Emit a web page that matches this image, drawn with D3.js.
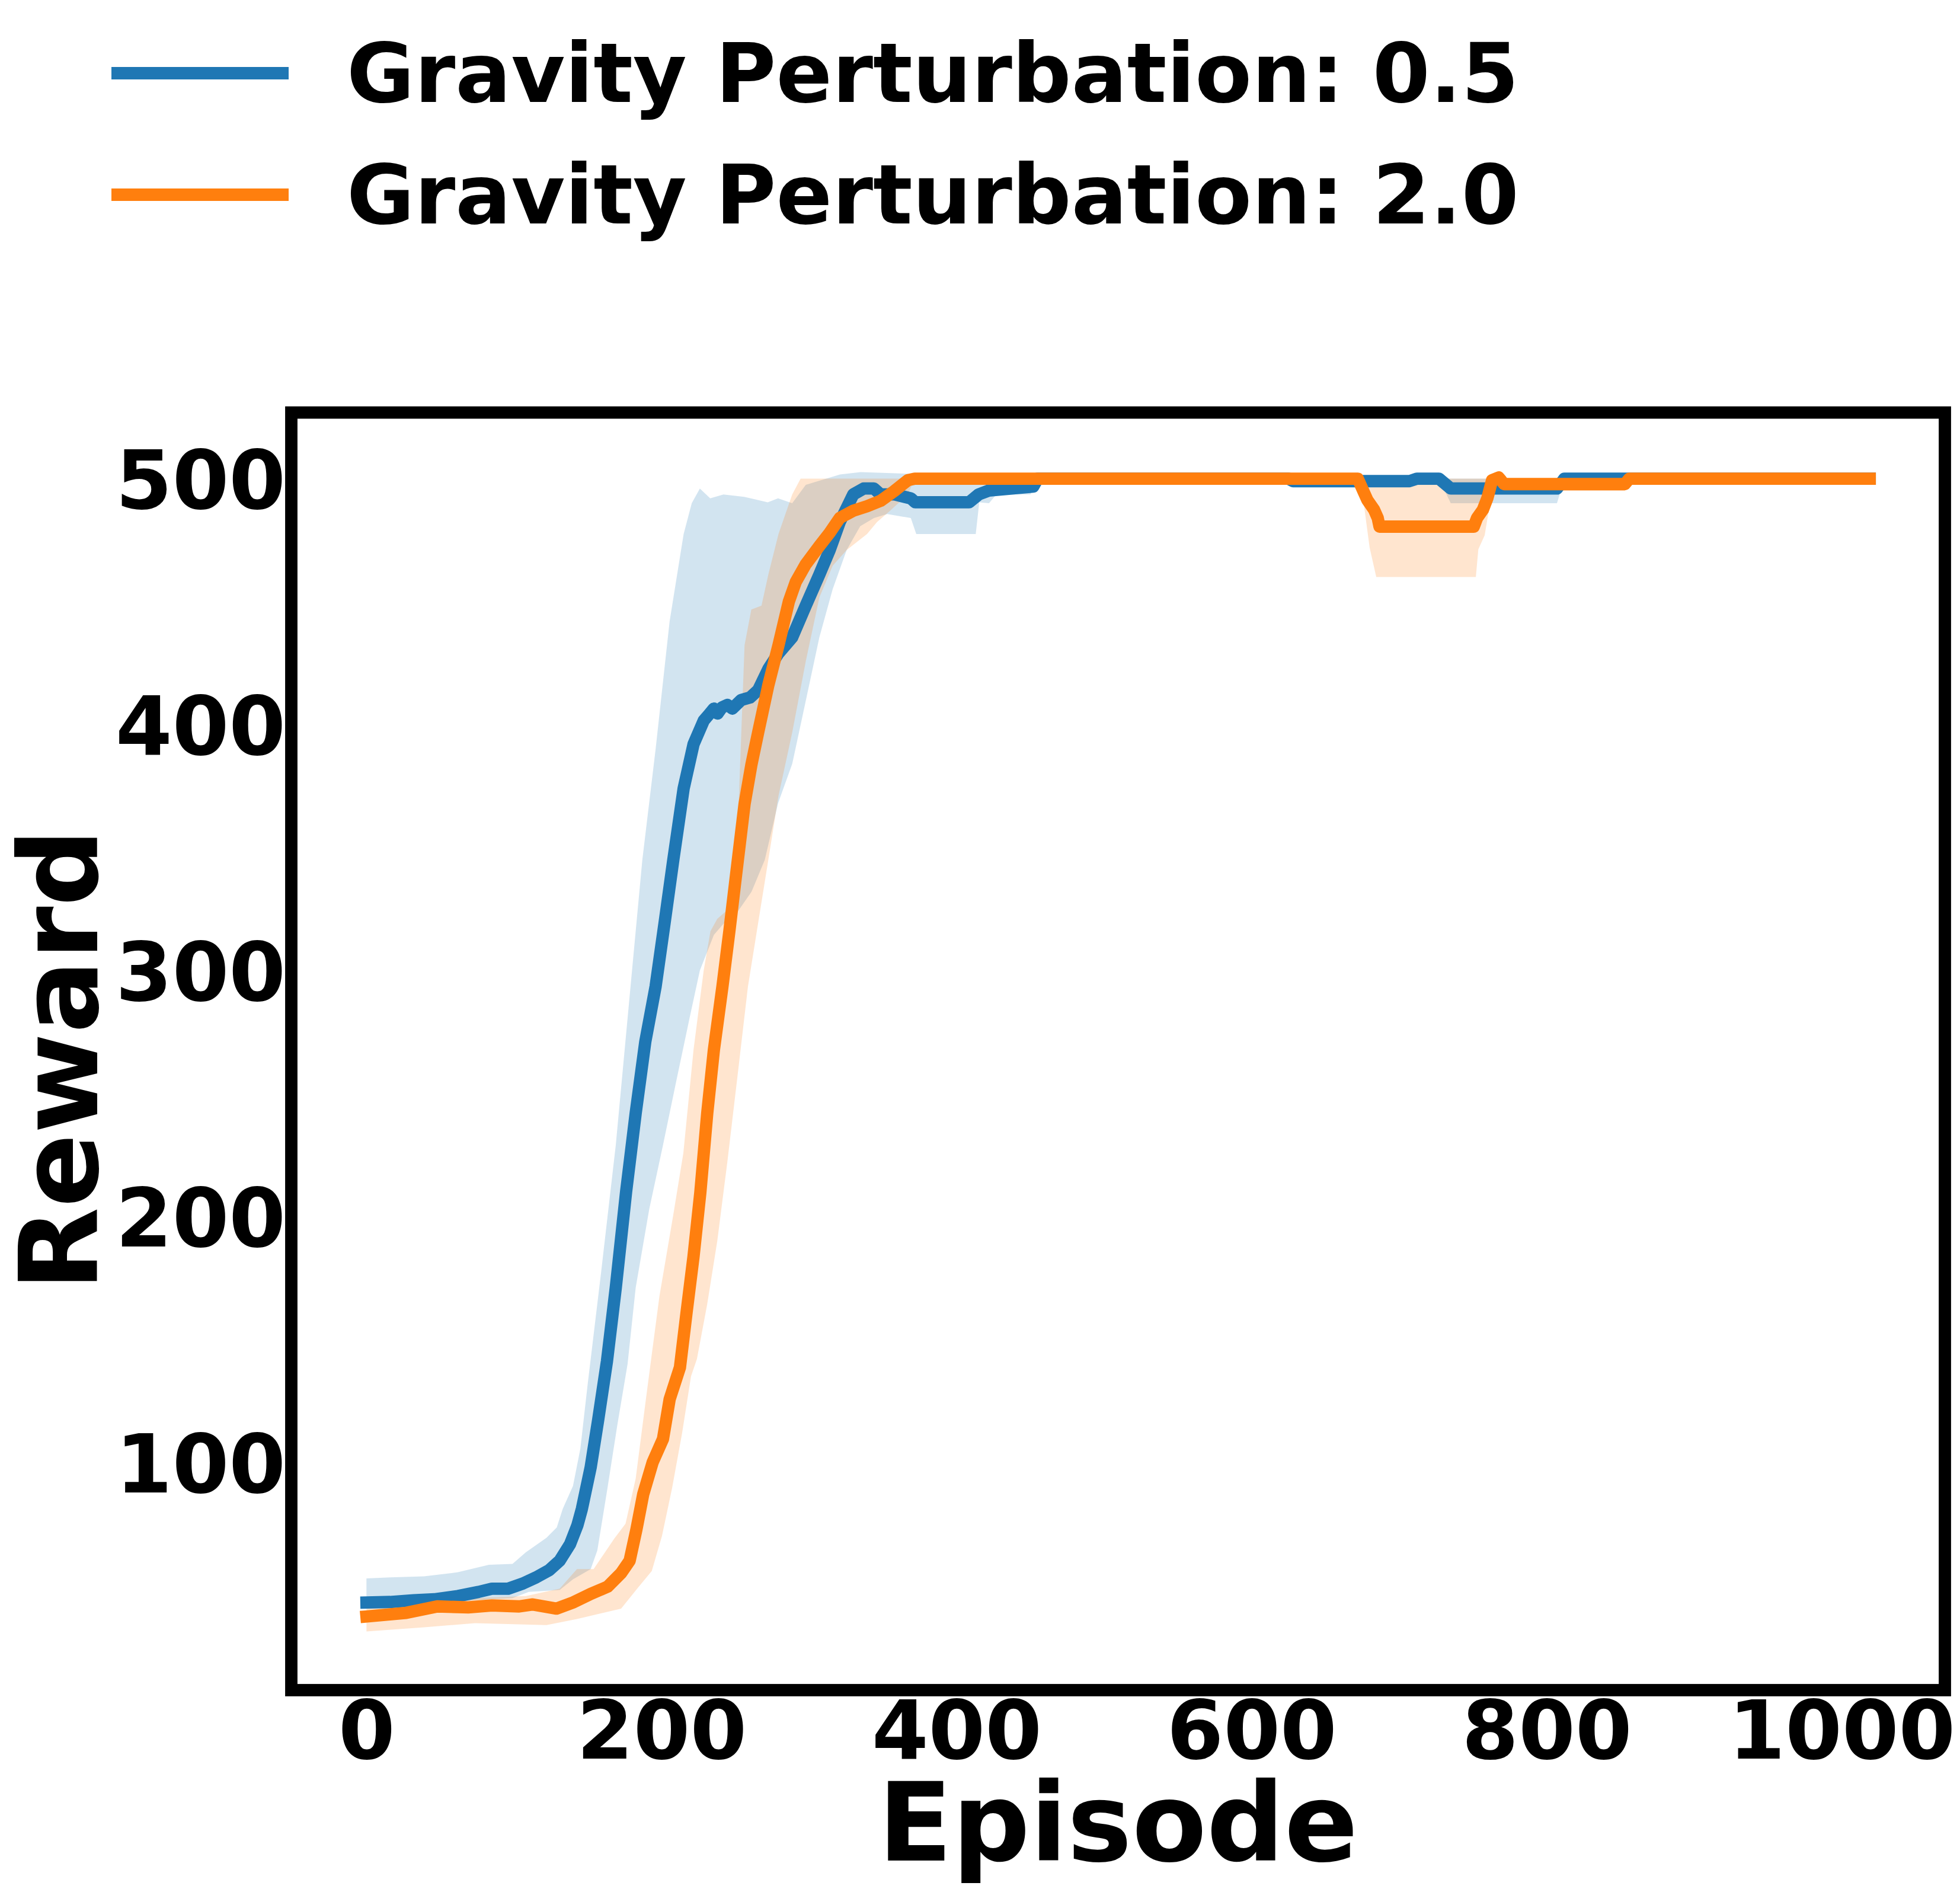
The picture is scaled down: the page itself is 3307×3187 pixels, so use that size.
<!DOCTYPE html>
<html>
<head>
<meta charset="utf-8">
<script src="https://cdn.jsdelivr.net/npm/d3@7"></script>
<style>
  body { margin: 0; background: #fff; }
  svg text { font-family: "DejaVu Sans", sans-serif; font-weight: bold; fill: #000; }
</style>
</head>
<body>
<div class="chart"></div>
<script>
// values, [episode, reward]
const seriesNames = ["Gravity Perturbation: 0.5", "Gravity Perturbation: 2.0"];
const seriesColors = ["#1f77b4", "#ff7f0e"];
const episodeTicks = [0, 200, 400, 600, 800, 1000];
const rewardTicks = [100, 200, 300, 400, 500];

const meanG05 = [[0,43],[16,43.2],[32,43.9],[46,44.3],[62,45.6],[76,47.3],[85,48.6],[96,48.6],[106,50.7],[115,53.2],
  [124,56.2],[131,60],[138,66.7],[143,74.4],[146,81],[152,98],[157,117],[163,141],[169,171],[176,210],[182.5,242],
  [189,271],[196,293.5],[202,319],[208,345],[215,374],[221.7,392],[228.6,401.6],[232,404],[235.5,406.5],[238,404.5],
  [241,407],[244.7,408],[248,406.5],[254,410],[260,411],[265.5,414],[272.4,422.6],[279.3,429],[288.6,435.5],
  [297.8,448.4],[307,461],[314,471],[320.8,482.3],[330,493.6],[337,496],[344,496],[348.5,493.6],[358,493.6],
  [369,492],[372,490.4],[408.5,490.4],[415,493.6],[422,495.2],[452,496.8],[455,500],[625,500],[628,499],[707,499],
  [712,500],[727,500],[735,496],[807,496],[812,500],[1019,500]];
const upperG05 = [[0,52.8],[16,53.2],[39,53.6],[62,55.3],[83,58.3],[99,58.7],[108,63.4],[122,69.3],[129,73.5],[133,81],
  [140,90.4],[145,105.6],[150,132],[159,177],[169,229],[178,287],[187,345],[196,390],[205.5,442],[215,477.5],
  [220.5,490],[226,496],[233,492],[242,493.6],[256,492.6],[272,490.4],[279,492],[288.6,490],[297.8,497.5],
  [321,501.7],[335,502.7],[367,502],[380,500],[1019,500]];
const lowerG05 = [[0,40.5],[39,41.4],[73.5,43.9],[99,44.8],[110,47.3],[131,48.1],[140,52.4],[152,56.6],[156.5,64.2],
  [163.4,89.6],[170,115],[177,140],[182.5,171],[191.7,203],[201,229],[210,255],[219,280.6],[226,300],[235.5,314.5],
  [242,319],[251.7,324],[261,332],[270,345],[279,368],[288.6,384],[297.8,409.7],[307,435.5],[316,455],[325.5,471],
  [334.7,480.7],[344,484],[353,485.6],[369,484],[372.7,477.5],[413,477.5],[415.4,490.4],[422,490],[427,493.6],
  [450,493.6],[455,498.5],[460,500],[625,500],[628,497],[707,497],[712,500],[727,500],[735,490],[807,490],[812,500],[1019,500]];

const meanG20 = [[0,37.3],[27,38.8],[48,41.4],[69,41],[85,41.8],[103.5,41.4],[112.7,42.2],[128.8,40.5],[140.4,43.1],
  [152,46.5],[163.4,49.4],[172.6,54.9],[178.4,60],[183,72.7],[187.6,87],[194,100],[201,109.5],[205.5,125.6],
  [212.5,138.6],[217,161],[221.7,183.7],[226.3,209.6],[231,242],[235.5,267.7],[241.3,293.5],[246,316],[250.5,338.7],
  [256.3,367.7],[261,383.9],[265.5,396.8],[272.4,416],[279.3,432.3],[286.3,450],[291,458],[297.8,465.2],[307,472.6],
  [314,478],[320.8,484],[330,487],[339.3,488.8],[348.5,491],[357.8,495],[367,499.4],[371.6,500],[672,500],
  [676,494.6],[678.4,491.4],[683,487.4],[685.5,484],[686.7,480.5],[750.6,480.5],[752.8,484],[756.8,487.4],
  [759.9,492.2],[763,499.4],[767.5,500.5],[771.2,497.8],[853,497.8],[856,500],[1019,500]];
const upperG20 = [[0,42.5],[40,43],[73.5,44.8],[108,45.6],[131,48.6],[142.7,56.6],[154,56.6],[168,69],[175.6,75],
  [182.5,93.4],[189.4,125.6],[198.6,167.6],[207.8,200],[214.8,225.7],[221.7,267.7],[228.6,300],[233.2,316],
  [237.8,321],[247,325.8],[251.7,358],[256.3,432.3],[260.9,446.8],[267.8,448.4],[272.4,461],[279.3,477.5],
  [288.6,493.6],[294.3,500],[1019,500]];
const lowerG20 = [[0,31.2],[39,32.9],[73.5,34.6],[122,33.8],[142.7,36.3],[172.6,40.5],[184,49],[193.4,55.8],[200.3,70],
  [207.2,89.6],[214,112],[220,135],[224,142],[231,164.4],[237.8,190],[244.7,222.5],[251.7,258],[258.6,293.5],
  [265.5,319.3],[272.4,345],[279.3,371],[288.6,396.8],[297.8,425.8],[307,451.7],[316,464.6],[325.5,471],
  [339.3,477.5],[346,482.3],[355,487],[367,493.6],[371.6,500],[672,500],[676,490],[680,472],[684.5,460],
  [752,460],[753.7,471.3],[758,477],[763,495],[771,495],[853,495],[856,500],[1019,500]];

const series = [
  { name: seriesNames[0], color: seriesColors[0], mean: meanG05, upper: upperG05, lower: lowerG05 },
  { name: seriesNames[1], color: seriesColors[1], mean: meanG20, upper: upperG20, lower: lowerG20 },
];

const fig_width = 3307, fig_height = 3187;
const plot_left = 491.5, plot_right = 3281.5, plot_top = 696, plot_bottom = 2851.5;
const frame_width = 20.8;
const line_width = 20.8;
const tick_font = 137.5;
const legend_font = 139.5;
const label_font = 183.3;

const svg = d3.select(".chart").append("svg")
  .attr("width", fig_width)
  .attr("height", fig_height)
  .attr("viewBox", `0 0 ${fig_width} ${fig_height}`);
svg.append("rect").attr("width", fig_width).attr("height", fig_height).attr("fill", "#fff");

// matplotlib style 5% margins around the data
const x_axis = d3.scaleLinear().domain([-50.95, 1069.95]).range([plot_left, plot_right]);
const y_axis = d3.scaleLinear().domain([7.35, 526.9]).range([plot_bottom, plot_top]);

svg.append("clipPath").attr("id", "plot-clip")
  .append("rect")
  .attr("x", plot_left).attr("y", plot_top)
  .attr("width", plot_right - plot_left).attr("height", plot_bottom - plot_top);

const plot = svg.append("g").attr("clip-path", "url(#plot-clip)");
const line = d3.line().x(d => x_axis(d[0])).y(d => y_axis(d[1]));

// bands first (matplotlib collections sit below lines)
for (const s of series) {
  const ring = s.upper.concat(s.lower.slice().reverse());
  plot.append("path")
    .attr("d", line(ring) + "Z")
    .attr("fill", s.color)
    .attr("fill-opacity", 0.2)
    .attr("stroke", "none");
}
for (const s of series) {
  plot.append("path")
    .attr("d", line(s.mean))
    .attr("fill", "none")
    .attr("stroke", s.color)
    .attr("stroke-width", line_width)
    .attr("stroke-linejoin", "round")
    .attr("stroke-linecap", "square");
}

// x axis
const gx = svg.append("g")
  .attr("transform", `translate(0,${plot_bottom})`)
  .call(d3.axisBottom(x_axis).tickValues(episodeTicks).tickSize(0).tickPadding(17.4).tickFormat(d3.format("d")));
gx.select(".domain").remove();
gx.selectAll("text")
  .style("font-size", `${tick_font}px`)
  .style("font-family", "'DejaVu Sans', sans-serif")
  .style("font-weight", "bold");

// y axis
const gy = svg.append("g")
  .attr("transform", `translate(${plot_left},0)`)
  .call(d3.axisLeft(y_axis).tickValues(rewardTicks).tickSize(0).tickPadding(9.5).tickFormat(d3.format("d")));
gy.select(".domain").remove();
gy.selectAll("text")
  .attr("dy", "0.3645em")
  .style("font-size", `${tick_font}px`)
  .style("font-family", "'DejaVu Sans', sans-serif")
  .style("font-weight", "bold");

// frame
svg.append("rect")
  .attr("x", plot_left).attr("y", plot_top)
  .attr("width", plot_right - plot_left).attr("height", plot_bottom - plot_top)
  .attr("fill", "none")
  .attr("stroke", "#000")
  .attr("stroke-width", frame_width);

// axis labels
svg.append("text")
  .attr("x", (plot_left + plot_right) / 2)
  .attr("y", 3139)
  .attr("text-anchor", "middle")
  .style("font-size", `${label_font}px`)
  .text("Episode");

svg.append("text")
  .attr("transform", `translate(164,1788) rotate(-90)`)
  .attr("text-anchor", "middle")
  .style("font-size", `${label_font}px`)
  .text("Reward");

// legend, no frame, above the axes
const legend = svg.append("g").attr("class", "legend");
series.forEach((s, i) => {
  const cy = 123.5 + i * 205;
  legend.append("line")
    .attr("x1", 188).attr("x2", 487)
    .attr("y1", cy).attr("y2", cy)
    .attr("stroke", s.color)
    .attr("stroke-width", line_width);
  legend.append("text")
    .attr("x", 585)
    .attr("y", cy + 48)
    .style("font-size", `${legend_font}px`)
    .text(s.name);
});
</script>
</body>
</html>
